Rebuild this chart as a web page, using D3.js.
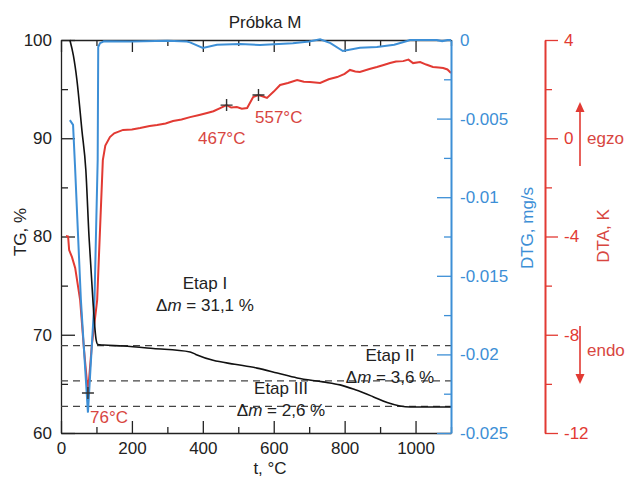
<!DOCTYPE html>
<html>
<head>
<meta charset="utf-8">
<script src="https://cdn.jsdelivr.net/npm/d3@7"></script>
<style>
body { margin: 0; background: #fff; }
text { font-family: "Liberation Sans", Arial, sans-serif; }
</style>
</head>
<body>
<script>

// TG curve [t, %]
let tgData = [[25,100],[35,98.4],[45,95.9],[59,90.8],[70,86.8],[79,80],[90,73.5],[99,69.5],[104,69.0],[120,68.95],
    [175,68.85],[260,68.6],[364,68.25],[380,68.0],[429,67.4],[490,67.0],[553,66.6],[610,66.1],[666,65.6],
    [739,65.2],[787,64.9],[830,64.4],[880,63.7],[920,63.1],[956,62.75],[985,62.65],[1100,62.65]];

// DTG curve [t, mg/s]
let dtgData = [[25,-0.0051],[34,-0.0054],[39.5,-0.0080],[56,-0.0165],[76,-0.0237],[94.5,-0.0165],[103.5,-0.0076],
    [105,-0.00045],[110,-0.0002],[121,-0.00008],[200,-0.0001],[300,-0.00005],[355,-0.0001],[364,-0.00015],
    [400,-0.0005],[440,-0.0003],[505,-0.00025],[561,-0.00032],[654,-0.0002],[700,-0.0001],[731,0.00005],
    [760,-0.0002],[795,-0.0007],[843,-0.0005],[891,-0.00045],[940,-0.0003],[976,-0.00006],[984,0],[1060,0],
    [1075,-0.00008],[1090,0],[1100,0]];

// DTA curve [t, K]
let dtaData = [[14,-3.98],[20,-4.0],[23,-4.55],[31,-4.84],[40,-5.28],[54,-6.59],[65,-8.62],[76,-10.37],[87,-8.42],
    [102,-6.59],[110,-3.74],[118,-0.89],[125,-0.3],[138,0.05],[150,0.2],[175,0.34],[200,0.36],[223,0.42],[250,0.5],
    [271,0.54],[295,0.6],[316,0.70],[340,0.76],[364,0.86],[390,0.95],[412,1.03],[430,1.1],[449,1.23],[467,1.35],
    [480,1.25],[496,1.27],[510,1.2],[525,1.23],[542,1.68],[557,1.76],[570,1.7],[581,1.64],[600,1.9],[618,2.17],
    [640,2.25],[666,2.37],[685,2.3],[702,2.29],[731,2.25],[755,2.4],[779,2.49],[800,2.62],[815,2.78],[830,2.72],
    [843,2.70],[870,2.82],[891,2.90],[910,2.98],[928,3.06],[945,3.12],[965,3.14],[980,3.2],[993,3.06],[1013,3.10],
    [1030,3.0],[1049,2.90],[1065,2.88],[1078,2.86],[1090,2.8],[1100,2.66]];

// TG levels separating the stages
let tgLevels = [68.9, 65.3, 62.7];

// peaks marked on DTA
let peaks = [[76,-10.37],[467,1.35],[557,1.76]];
let peakLabels = ["76°C", "467°C", "557°C"];

let xTicks = [0, 200, 400, 600, 800, 1000];
let xMinor = [100, 300, 500, 700, 900, 1100];
let tgTicks = [60, 70, 80, 90, 100];
let tgMinor = [65, 75, 85, 95];
let dtgTicks = [0, -0.005, -0.01, -0.015, -0.02, -0.025];
let dtgLabels = ["0", "-0.005", "-0.01", "-0.015", "-0.02", "-0.025"];
let dtgMinor = [-0.0025, -0.0075, -0.0125, -0.0175, -0.0225];
let dtaTicks = [4, 0, -4, -8, -12];
let dtaLabels = ["4", "0", "-4", "-8", "-12"];
let dtaMinor = [2, -2, -6, -10];

let red = "#e23a33",
    redText = "#d8463f",
    blue = "#3d8fd6",
    ink = "#222";

let margin = {top: 40, left: 61},
    width = 390,
    height = 393;

let svg = d3.select("body").append("svg")
    .attr("width", 630)
    .attr("height", 479);

let g = svg.append("g")
    .attr("transform", "translate(" + margin.left + "," + margin.top + ")");

let x = d3.scaleLinear().domain([0, 1100]).range([0, width]);
let yTG = d3.scaleLinear().domain([60, 100]).range([height, 0]);
let yDTG = d3.scaleLinear().domain([-0.025, 0]).range([height, 0]);
let yDTA = d3.scaleLinear().domain([-12, 4]).range([height, 0]);

function styleAxis(sel, color) {
    sel.selectAll("path, line").attr("stroke", color).attr("stroke-width", 1.3);
    sel.selectAll("text").attr("fill", color).style("font-size", "17px").attr("font-family", null);
}

// bottom axis
let xAxisG = g.append("g")
    .attr("transform", "translate(0," + height + ")")
    .call(d3.axisBottom(x).tickValues(xTicks).tickSizeInner(-12).tickSizeOuter(0).tickPadding(9)
        .tickFormat(d => String(d)));
styleAxis(xAxisG, ink);
let xMinorG = g.append("g")
    .attr("transform", "translate(0," + height + ")")
    .call(d3.axisBottom(x).tickValues(xMinor).tickSizeInner(-6).tickSizeOuter(0).tickFormat(""));
styleAxis(xMinorG, ink);
xMinorG.select("path").remove();

// top frame line with ticks
let topG = g.append("g")
    .call(d3.axisTop(x).tickValues(xTicks).tickSizeInner(-12).tickSizeOuter(0).tickFormat(""));
styleAxis(topG, ink);
let topMinorG = g.append("g")
    .call(d3.axisTop(x).tickValues(xMinor).tickSizeInner(-6).tickSizeOuter(0).tickFormat(""));
styleAxis(topMinorG, ink);
topMinorG.select("path").remove();

// left TG axis
let tgAxisG = g.append("g")
    .call(d3.axisLeft(yTG).tickValues(tgTicks).tickSizeInner(-14).tickSizeOuter(0).tickPadding(9)
        .tickFormat(d => String(d)));
styleAxis(tgAxisG, ink);
let tgMinorG = g.append("g")
    .call(d3.axisLeft(yTG).tickValues(tgMinor).tickSizeInner(-7).tickSizeOuter(0).tickFormat(""));
styleAxis(tgMinorG, ink);
tgMinorG.select("path").remove();

// dashed TG levels
g.selectAll("line.level")
    .data(tgLevels)
    .enter().append("line")
    .attr("class", "level")
    .attr("x1", 0)
    .attr("x2", width)
    .attr("y1", d => yTG(d))
    .attr("y2", d => yTG(d))
    .attr("stroke", "#444")
    .attr("stroke-width", 1.2)
    .attr("stroke-dasharray", "7,5");

// curves
let line = d3.line().x(d => x(d[0]));

g.append("path")
    .datum(dtaData)
    .attr("fill", "none")
    .attr("stroke", red)
    .attr("stroke-width", 2)
    .attr("d", line.y(d => yDTA(d[1])));

g.append("path")
    .datum(dtgData)
    .attr("fill", "none")
    .attr("stroke", blue)
    .attr("stroke-width", 2)
    .attr("d", line.y(d => yDTG(d[1])));

g.append("path")
    .datum(tgData)
    .attr("fill", "none")
    .attr("stroke", "#111")
    .attr("stroke-width", 1.6)
    .attr("d", d3.line().x(d => x(d[0])).y(d => yTG(d[1])).curve(d3.curveMonotoneX));

// peak crosses
g.selectAll("path.cross")
    .data(peaks)
    .enter().append("path")
    .attr("class", "cross")
    .attr("transform", d => "translate(" + x(d[0]) + "," + yDTA(d[1]) + ")")
    .attr("d", "M-6,0H6M0,-6V6")
    .attr("stroke", "#333")
    .attr("stroke-width", 1.4);

let labelPos = [[90, 423], [198, 144], [255, 123]];
svg.selectAll("text.peak")
    .data(peakLabels)
    .enter().append("text")
    .attr("class", "peak")
    .attr("x", (d, i) => labelPos[i][0])
    .attr("y", (d, i) => labelPos[i][1])
    .attr("fill", redText)
    .style("font-size", "17px")
    .text(d => d);

// DTG axis (right)
let dtgAxisG = g.append("g")
    .attr("transform", "translate(" + width + ",0)")
    .call(d3.axisRight(yDTG).tickValues(dtgTicks).tickSizeInner(-14).tickSizeOuter(0).tickPadding(9)
        .tickFormat((d, i) => dtgLabels[i]));
styleAxis(dtgAxisG, blue);
let dtgMinorG = g.append("g")
    .attr("transform", "translate(" + width + ",0)")
    .call(d3.axisRight(yDTG).tickValues(dtgMinor).tickSizeInner(-7).tickSizeOuter(0).tickFormat(""));
styleAxis(dtgMinorG, blue);
dtgMinorG.select("path").remove();
dtgAxisG.select("path").attr("stroke-width", 2);

// DTA axis (far right)
let dtaX = 484;
let dtaAxisG = g.append("g")
    .attr("transform", "translate(" + dtaX + ",0)")
    .call(d3.axisRight(yDTA).tickValues(dtaTicks).tickSizeInner(13).tickSizeOuter(0).tickPadding(6)
        .tickFormat((d, i) => dtaLabels[i]));
styleAxis(dtaAxisG, red);
let dtaMinorG = g.append("g")
    .attr("transform", "translate(" + dtaX + ",0)")
    .call(d3.axisRight(yDTA).tickValues(dtaMinor).tickSizeInner(7).tickSizeOuter(0).tickFormat(""));
styleAxis(dtaMinorG, red);
dtaMinorG.select("path").remove();
dtaAxisG.select("path").attr("stroke-width", 2);

// egzo / endo arrows
let ax = margin.left + 519;
svg.append("line").attr("x1", ax).attr("x2", ax).attr("y1", 166).attr("y2", 110)
    .attr("stroke", red).attr("stroke-width", 1.6);
svg.append("path").attr("d", "M" + ax + ",102l-4.5,10h9z").attr("fill", red);
svg.append("line").attr("x1", ax).attr("x2", ax).attr("y1", 326).attr("y2", 375)
    .attr("stroke", red).attr("stroke-width", 1.6);
svg.append("path").attr("d", "M" + ax + ",384l-4.5,-10h9z").attr("fill", red);
svg.append("text").attr("x", 587).attr("y", 144).attr("fill", redText).style("font-size", "17px").text("egzo");
svg.append("text").attr("x", 587).attr("y", 356).attr("fill", redText).style("font-size", "17px").text("endo");

// titles
svg.append("text")
    .attr("x", 265).attr("y", 28)
    .attr("text-anchor", "middle")
    .attr("fill", ink)
    .style("font-size", "17px")
    .text("Próbka M");

svg.append("text")
    .attr("transform", "translate(26,232) rotate(-90)")
    .attr("text-anchor", "middle")
    .attr("fill", ink)
    .style("font-size", "17px")
    .text("TG, %");

svg.append("text")
    .attr("transform", "translate(533,228) rotate(-90)")
    .attr("text-anchor", "middle")
    .attr("fill", blue)
    .style("font-size", "17px")
    .text("DTG, mg/s");

svg.append("text")
    .attr("transform", "translate(609,236) rotate(-90)")
    .attr("text-anchor", "middle")
    .attr("fill", redText)
    .style("font-size", "17px")
    .text("DTA, K");

svg.append("text")
    .attr("x", 270).attr("y", 474)
    .attr("text-anchor", "middle")
    .attr("fill", ink)
    .style("font-size", "17px")
    .text("t, °C");

// stage annotations
let stages = [
    {name: "Etap I", dm: "31,1", x: 205, y: 289},
    {name: "Etap II", dm: "3,6", x: 390, y: 361},
    {name: "Etap III", dm: "2,6", x: 281, y: 394}
];

stages.forEach(function (s) {
    svg.append("text")
        .attr("x", s.x).attr("y", s.y)
        .attr("text-anchor", "middle")
        .attr("fill", ink)
        .style("font-size", "17px")
        .text(s.name);
    let t = svg.append("text")
        .attr("x", s.x).attr("y", s.y + 22)
        .attr("text-anchor", "middle")
        .attr("fill", ink)
        .style("font-size", "17px");
    t.append("tspan").text("Δ");
    t.append("tspan").style("font-style", "italic").text("m");
    t.append("tspan").text(" = " + s.dm + " %");
});

</script>
</body>
</html>
